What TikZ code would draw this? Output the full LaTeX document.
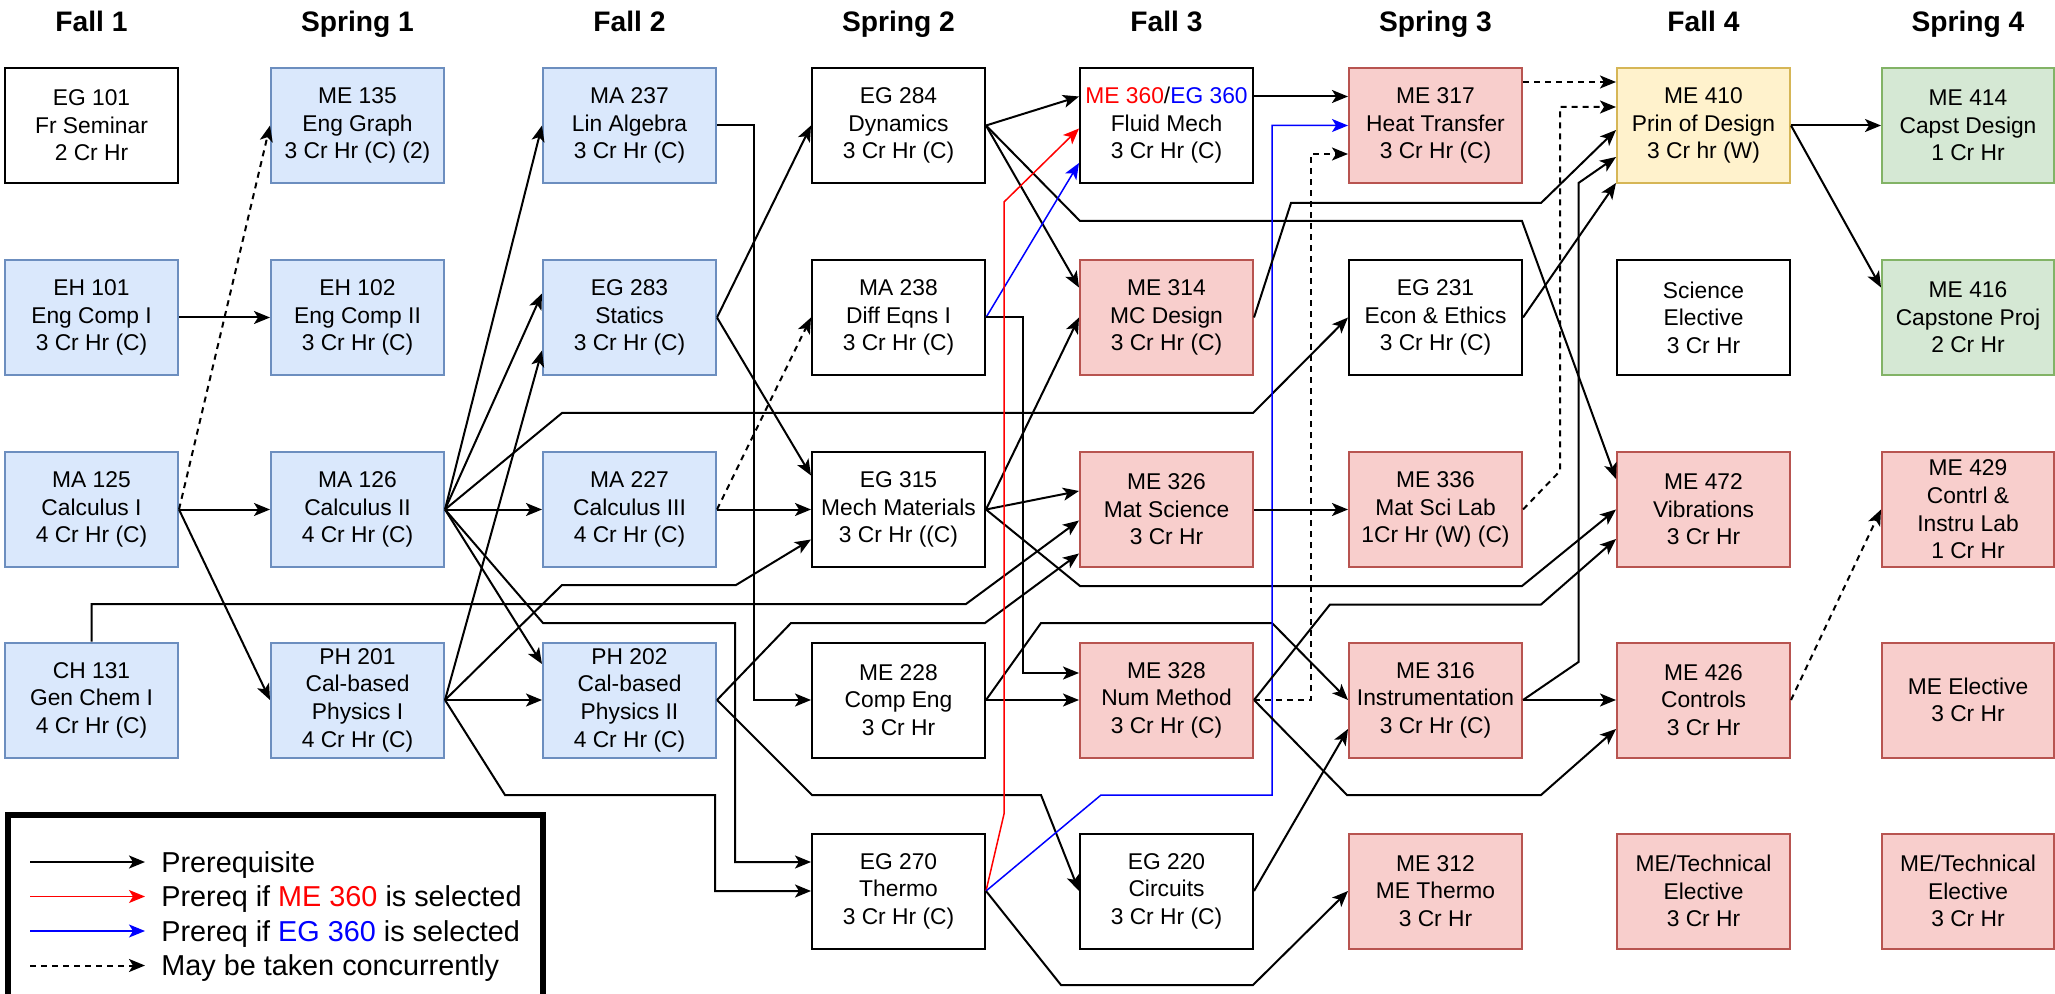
\documentclass[tikz,border=0pt]{standalone}
\usepackage{fontspec}
\setmainfont{Liberation Sans}
\usetikzlibrary{arrows.meta,calc}
\definecolor{bfill}{HTML}{DAE8FC}
\definecolor{bdraw}{HTML}{6C8EBF}
\definecolor{rfill}{HTML}{F8CECC}
\definecolor{rdraw}{HTML}{B85450}
\definecolor{yfill}{HTML}{FFF2CC}
\definecolor{ydraw}{HTML}{D6B656}
\definecolor{gfill}{HTML}{D5E8D4}
\definecolor{gdraw}{HTML}{82B366}
\newcommand{\nfs}{\fontsize{11.4}{13.8}\selectfont}
\newcommand{\hfs}{\fontsize{14.1}{16}\selectfont\bfseries}
\newcommand{\lfs}{\fontsize{14.4}{17}\selectfont}
\begin{document}
\begin{tikzpicture}[x=0.5pt,y=-0.5pt,
  course/.style={draw=black, fill=white, line width=1pt, minimum width=86.5pt, minimum height=57.5pt, inner sep=0pt, align=center, font=\nfs},
  bcourse/.style={course, fill=bfill, draw=bdraw},
  rcourse/.style={course, fill=rfill, draw=rdraw},
  ycourse/.style={course, fill=yfill, draw=ydraw},
  gcourse/.style={course, fill=gfill, draw=gdraw},
  hdr/.style={font=\hfs, anchor=base},
  prq/.style={draw=black, line width=1pt, -{Stealth[length=8pt,width=6.5pt,inset=2pt]}},
  conc/.style={prq, dash pattern=on 3pt off 2.5pt},
  redp/.style={prq, draw=red, line width=0.75pt},
  bluep/.style={prq, draw=blue, line width=0.75pt},
  legtext/.style={font=\lfs, anchor=base west, inner sep=0pt}
]
\useasboundingbox (0,0) rectangle (2055,994);
\clip (0,0) rectangle (2055,994);

% headers
\node[hdr] (h1) at (91.5,32) {Fall 1};
\node[hdr] (h2) at (357.5,32) {Spring 1};
\node[hdr] (h3) at (629.5,32) {Fall 2};
\node[hdr] (h4) at (898.5,32) {Spring 2};
\node[hdr] (h5) at (1166.5,32) {Fall 3};
\node[hdr] (h6) at (1435.5,32) {Spring 3};
\node[hdr] (h7) at (1703.5,32) {Fall 4};
\node[hdr] (h8) at (1968,32) {Spring 4};

% column 1
\node[course]  (eg101) at (91.5,125.5) {EG 101\\Fr Seminar\\2 Cr Hr};
\node[bcourse] (eh101) at (91.5,317.5) {EH 101\\Eng Comp I\\3 Cr Hr (C)};
\node[bcourse] (ma125) at (91.5,509.5) {MA 125\\Calculus I\\4 Cr Hr (C)};
\node[bcourse] (ch131) at (91.5,700) {CH 131\\Gen Chem I\\4 Cr Hr (C)};
% column 2
\node[bcourse] (me135) at (357.5,125.5) {ME 135\\Eng Graph\\3 Cr Hr (C) (2)};
\node[bcourse] (eh102) at (357.5,317.5) {EH 102\\Eng Comp II\\3 Cr Hr (C)};
\node[bcourse] (ma126) at (357.5,509.5) {MA 126\\Calculus II\\4 Cr Hr (C)};
\node[bcourse] (ph201) at (357.5,700) {PH 201\\Cal-based\\Physics I\\4 Cr Hr (C)};
% column 3
\node[bcourse] (ma237) at (629.5,125.5) {MA 237\\Lin Algebra\\3 Cr Hr (C)};
\node[bcourse] (eg283) at (629.5,317.5) {EG 283\\Statics\\3 Cr Hr (C)};
\node[bcourse] (ma227) at (629.5,509.5) {MA 227\\Calculus III\\4 Cr Hr (C)};
\node[bcourse] (ph202) at (629.5,700) {PH 202\\Cal-based\\Physics II\\4 Cr Hr (C)};
% column 4
\node[course] (eg284) at (898.5,125.5) {EG 284\\Dynamics\\3 Cr Hr (C)};
\node[course] (ma238) at (898.5,317.5) {MA 238\\Diff Eqns I\\3 Cr Hr (C)};
\node[course] (eg315) at (898.5,509.5) {EG 315\\Mech Materials\\3 Cr Hr ((C)};
\node[course] (me228) at (898.5,700) {ME 228\\Comp Eng\\3 Cr Hr};
\node[course] (eg270) at (898.5,891) {EG 270\\Thermo\\3 Cr Hr (C)};
% column 5
\node[course]  (fluid) at (1166.5,125.5) {\textcolor{red}{ME 360}/\textcolor{blue}{EG 360}\\Fluid Mech\\3 Cr Hr (C)};
\node[rcourse] (me314) at (1166.5,317.5) {ME 314\\MC Design\\3 Cr Hr (C)};
\node[rcourse] (me326) at (1166.5,509.5) {ME 326\\Mat Science\\3 Cr Hr};
\node[rcourse] (me328) at (1166.5,700) {ME 328\\Num Method\\3 Cr Hr (C)};
\node[course]  (eg220) at (1166.5,891) {EG 220\\Circuits\\3 Cr Hr (C)};
% column 6
\node[rcourse] (me317) at (1435.5,125.5) {ME 317\\Heat Transfer\\3 Cr Hr (C)};
\node[course]  (eg231) at (1435.5,317.5) {EG 231\\Econ \& Ethics\\3 Cr Hr (C)};
\node[rcourse] (me336) at (1435.5,509.5) {ME 336\\Mat Sci Lab\\1Cr Hr (W) (C)};
\node[rcourse] (me316) at (1435.5,700) {ME 316\\Instrumentation\\3 Cr Hr (C)};
\node[rcourse] (me312) at (1435.5,891) {ME 312\\ME Thermo\\3 Cr Hr};
% column 7
\node[ycourse] (me410) at (1703.5,125.5) {ME 410\\Prin of Design\\3 Cr hr (W)};
\node[course]  (scie)  at (1703.5,317.5) {Science\\Elective\\3 Cr Hr};
\node[rcourse] (me472) at (1703.5,509.5) {ME 472\\Vibrations\\3 Cr Hr};
\node[rcourse] (me426) at (1703.5,700) {ME 426\\Controls\\3 Cr Hr};
\node[rcourse] (tech1) at (1703.5,891) {ME/Technical\\Elective\\3 Cr Hr};
% column 8
\node[gcourse, minimum width=86pt] (me414) at (1968,125.5) {ME 414\\Capst Design\\1 Cr Hr};
\node[gcourse, minimum width=86pt] (me416) at (1968,317.5) {ME 416\\Capstone Proj\\2 Cr Hr};
\node[rcourse, minimum width=86pt] (me429) at (1968,509.5) {ME 429\\Contrl \&\\Instru Lab\\1 Cr Hr};
\node[rcourse, minimum width=86pt] (meel)  at (1968,700) {ME Elective\\3 Cr Hr};
\node[rcourse, minimum width=86pt] (tech2) at (1968,891) {ME/Technical\\Elective\\3 Cr Hr};

% ---- connectors ----
\draw[prq] (eh101.east) -- (eh102.west);
\draw[conc] (ma125.east) -- (me135.west);
\draw[prq] (ma125.east) -- (ma126.west);
\draw[prq] (ma125.east) -- (ph201.west);

\draw[prq] (ma126.east) -- (ma237.west);
\draw[prq] (ma126.east) -- ($(eg283.west)+(0,-24)$);
\draw[prq] (ma126.east) -- (ma227.west);
\draw[prq] (ma126.east) -- ($(ph202.west)+(0,-36)$);
\draw[prq] (ma126.east) -- (562,413) -- (1253,413) -- (eg231.west);
\draw[prq] (ma126.east) -- (543,623) -- (735,623) |- ($(eg270.west)+(0,-29)$);

\draw[prq] (ph201.east) -- ($(eg283.west)+(0,33)$);
\draw[prq] (ph201.east) -- (ph202.west);
\draw[prq] (ph201.east) -- (562,585) -- (736,585) -- ($(eg315.west)+(0,30)$);
\draw[prq] (ph201.east) -- (505,795) -- (715,795) |- (eg270.west);

\draw[prq] (ch131.north) |- (966,604) -- ($(me326.west)+(0,11)$);

\draw[prq] (ma237.east) -- (754,125.5) |- (me228.west);
\draw[prq] (ma227.east) -- (eg315.west);
\draw[conc] (ma227.east) -- (ma238.west);
\draw[prq] (eg283.east) -- (eg284.west);
\draw[prq] (eg283.east) -- ($(eg315.west)+(0,-34)$);
\draw[prq] (ph202.east) -- (791,623) -- (985,623) -- ($(me326.west)+(0,44)$);
\draw[prq] (ph202.east) -- (812,795) -- (1041,795) -- (eg220.west);

\draw[prq] (eg284.east) -- ($(fluid.west)+(0,-29)$);
\draw[prq] (eg284.east) -- ($(me314.west)+(0,-30)$);
\draw[prq] (eg284.east) -- (1080,221) -- (1522,221) -- ($(me472.west)+(0,-30.5)$);
\draw[bluep] (ma238.east) -- ($(fluid.west)+(0,37.5)$);
\draw[prq] (ma238.east) -- (1023,317.5) -- (1023,673) -- ($(me328.west)+(0,-27)$);
\draw[prq] (eg315.east) -- (me314.west);
\draw[prq] (eg315.east) -- ($(me326.west)+(0,-18.5)$);
\draw[prq] (eg315.east) -- (1080,586) -- (1522,586) -- (me472.west);
\draw[prq] (me228.east) -- (me328.west);
\draw[prq] (me228.east) -- (1041,623) -- (1272,623) -- (me316.west);
\draw[redp] (eg270.east) -- (1004,814) -- (1004,202) -- ($(fluid.west)+(0,3)$);
\draw[bluep] (eg270.east) -- (1101,795) -- (1272,795) -- (1272,125.5) -- (me317.west);
\draw[prq] (eg270.east) -- (1061,985) -- (1253,985) -- (me312.west);

\draw[prq] ($(fluid.east)+(0,-29)$) -- ($(me317.west)+(0,-29)$);
\draw[prq] (me314.east) -- (1291,203) -- (1541,203) -- ($(me410.west)+(0,4.5)$);
\draw[prq] (me326.east) -- (me336.west);
\draw[conc] (me328.east) -- (1311,700) |- ($(me317.west)+(0,28.5)$);
\draw[prq] (me328.east) -- (1330,604.5) -- (1541,604.5) -- ($(me472.west)+(0,29.5)$);
\draw[prq] (me328.east) -- (1347,795) -- (1541,795) -- ($(me426.west)+(0,29)$);
\draw[prq] (eg220.east) -- ($(me316.west)+(0,29)$);

\draw[conc] ($(me317.east)+(0,-43.5)$) -- ($(me410.west)+(0,-43.5)$);
\draw[conc] (me336.east) -- (1560,471) |- ($(me410.west)+(0,-18.5)$);
\draw[prq] (eg231.east) -- ($(me410.south west)+(0,-1)$);
\draw[prq] (me316.east) -- (me426.west);
\draw[prq] (me316.east) -- (1578.5,662) -- (1578.5,183) -- ($(me410.west)+(0,31.5)$);

\draw[prq] (me410.east) -- (me414.west);
\draw[prq] (me410.east) -- ($(me416.west)+(0,-30)$);
\draw[conc] (me426.east) -- (me429.west);

% ---- legend ----
\draw[line width=3pt] (7.5,815) rectangle (543,1010);
\coordinate (la1) at (30,862);   \coordinate (lb1) at (145,862);
\coordinate (la2) at (30,896.5); \coordinate (lb2) at (145,896.5);
\coordinate (la3) at (30,931);   \coordinate (lb3) at (145,931);
\coordinate (la4) at (30,965.5); \coordinate (lb4) at (145,965.5);
\draw[prq] (la1) -- (lb1);
\draw[redp] (la2) -- (lb2);
\draw[bluep] (la3) -- (lb3);
\draw[conc] (la4) -- (lb4);
\node[legtext] (lt1) at (161,872) {Prerequisite};
\node[legtext] (lt2) at (161,906.5) {Prereq if \textcolor{red}{ME 360} is selected};
\node[legtext] (lt3) at (161,941) {Prereq if \textcolor{blue}{EG 360} is selected};
\node[legtext] (lt4) at (161,975.5) {May be taken concurrently};
\end{tikzpicture}
\end{document}
